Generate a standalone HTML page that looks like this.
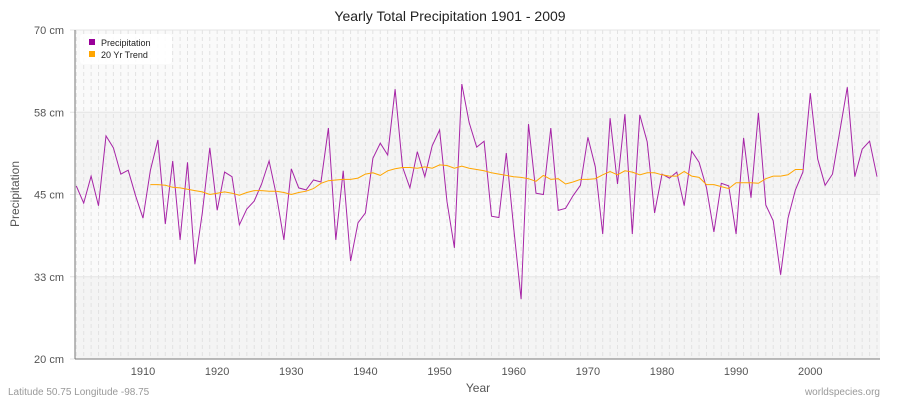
<!DOCTYPE html>
<html><head><meta charset="utf-8"><style>
body{margin:0;background:#fff;font-family:"Liberation Sans",sans-serif}
</style></head><body>
<svg id="chart" width="900" height="400" viewBox="0 0 900 400" font-family="Liberation Sans, sans-serif">
<rect width="900" height="400" fill="#fff"/>
<text x="450" y="21" text-anchor="middle" font-size="14" fill="#222">Yearly Total Precipitation 1901 - 2009</text>
<g id="bands"></g>
<g id="vgrid"></g>
<g id="yticks"></g>
<g id="xticks"></g>
<line x1="75" y1="30" x2="75" y2="359" stroke="#777"/>
<line x1="75" y1="359" x2="880" y2="359" stroke="#777"/>
<g id="series"></g>
<text x="19" y="194" text-anchor="middle" font-size="12" fill="#555" transform="rotate(-90 19 194)">Precipitation</text>
<text x="478" y="392" text-anchor="middle" font-size="12" fill="#555">Year</text>
<text x="8" y="395" font-size="10" fill="#999">Latitude 50.75 Longitude -98.75</text>
<text x="880" y="395" text-anchor="end" font-size="10" fill="#999">worldspecies.org</text>
<g>
<rect x="80" y="34" width="92" height="30" fill="#fff" opacity="0.9" rx="3"/>
<rect x="89" y="39" width="6" height="6" fill="#990099"/>
<text x="101" y="46" font-size="9" fill="#222">Precipitation</text>
<rect x="89" y="51" width="6" height="6" fill="#ffa500"/>
<text x="101" y="58" font-size="9" fill="#222">20 Yr Trend</text>
</g>
</svg>
<script>
const precip = [46.3,43.7,47.8,43.3,53.9,52.1,48.1,48.7,44.8,41.4,
48.7,53.3,40.5,50.1,38.1,49.9,34.4,42.2,52.1,42.6,
48.4,47.7,40.4,42.8,44.0,46.6,50.1,44.8,38.1,48.9,
46.0,45.7,47.2,46.9,55.1,38.1,48.6,34.9,40.7,42.2,
50.5,52.8,51.0,61.0,49.2,46.0,51.5,47.7,52.4,54.8,
43.9,36.9,61.8,55.9,52.2,53.1,41.7,41.5,51.3,39.9,
29.1,55.7,45.2,45.0,55.1,42.6,42.9,44.8,46.4,53.7,
49.2,39.0,56.6,46.6,57.2,39.0,57.1,53.0,42.2,48.1,
47.5,48.4,43.3,51.6,49.9,46.0,39.3,46.7,46.3,39.0,
53.6,44.5,57.4,43.4,41.0,32.8,41.4,45.7,48.4,60.4,
50.4,46.4,48.1,54.7,61.3,47.7,51.9,53.1,47.7];
const trendStart = 1911;
const trend = [46.5,46.5,46.4,46.1,46.0,45.8,45.6,45.4,45.0,45.2,
45.4,45.2,44.9,45.3,45.6,45.6,45.5,45.5,45.3,45.0,
45.3,45.5,45.9,46.7,47.1,47.2,47.3,47.3,47.5,48.1,
48.3,47.9,48.6,48.9,49.1,49.1,49.0,49.2,49.0,49.5,
49.4,49.0,49.3,49.0,48.8,48.6,48.3,48.1,47.9,47.7,
47.6,47.4,47.0,47.9,47.3,47.4,46.6,46.9,47.3,47.3,
47.4,48.0,48.5,48.0,48.6,48.4,48.0,48.3,48.3,48.0,
47.8,47.8,48.5,47.8,47.6,46.5,46.5,46.2,45.9,46.8,
46.8,46.8,46.7,47.4,47.8,47.8,48.0,48.8,48.8];
const firstYear = 1901;
const yTickVals = [20,32.5,45,57.5,70];
const yTickLabels = ["20 cm","33 cm","45 cm","58 cm","70 cm"];
const xTickYears = [1910,1920,1930,1940,1950,1960,1970,1980,1990,2000];

const NS="http://www.w3.org/2000/svg";
const xs = yr => 76.3 + (yr-1901)*(800.7/108);
const ys = v => 30 + (70-v)*(329/50);
function mk(tag, attrs, parent){const e=document.createElementNS(NS,tag);for(const k in attrs)e.setAttribute(k,attrs[k]);document.getElementById(parent).appendChild(e);return e;}

for(let i=0;i<yTickVals.length-1;i++){
  const b=mk('rect',{x:75,y:ys(yTickVals[i+1]),width:805,height:ys(yTickVals[i])-ys(yTickVals[i+1]),fill:i%2===0?'#f4f4f4':'#fafafa'},'bands');
  
  
}
for(let y=firstYear;y<=2009;y++){
  const l=mk('line',{x1:xs(y),x2:xs(y),y1:30,y2:359,stroke:'#e2e2e2','stroke-dasharray':'4,3'},'vgrid');
  
  
}
yTickVals.forEach((v,i)=>{
  const l=mk('line',{x1:70,x2:880,y1:ys(v),y2:ys(v),stroke:'#e4e4e4'},'yticks');
  
  
  const t=mk('text',{x:64,y:ys(v)+4,'text-anchor':'end','font-size':11,fill:'#555'},'yticks');
  t.textContent=yTickLabels[i];
  
  
});
xTickYears.forEach(yr=>{
  const t=mk('text',{x:xs(yr),y:375,'text-anchor':'middle','font-size':11,fill:'#555'},'xticks');
  t.textContent=yr;
  
  
});
const pl=mk('polyline',{fill:'none',stroke:'#990099','stroke-width':1,opacity:0.85,points:precip.map((v,i)=>xs(firstYear+i).toFixed(1)+','+ys(v).toFixed(1)).join(' ')},'series');


const tl=mk('polyline',{fill:'none',stroke:'#ffa500','stroke-width':1,points:trend.map((v,i)=>xs(trendStart+i).toFixed(1)+','+ys(v).toFixed(1)).join(' ')},'series');


</script>
</body></html>
